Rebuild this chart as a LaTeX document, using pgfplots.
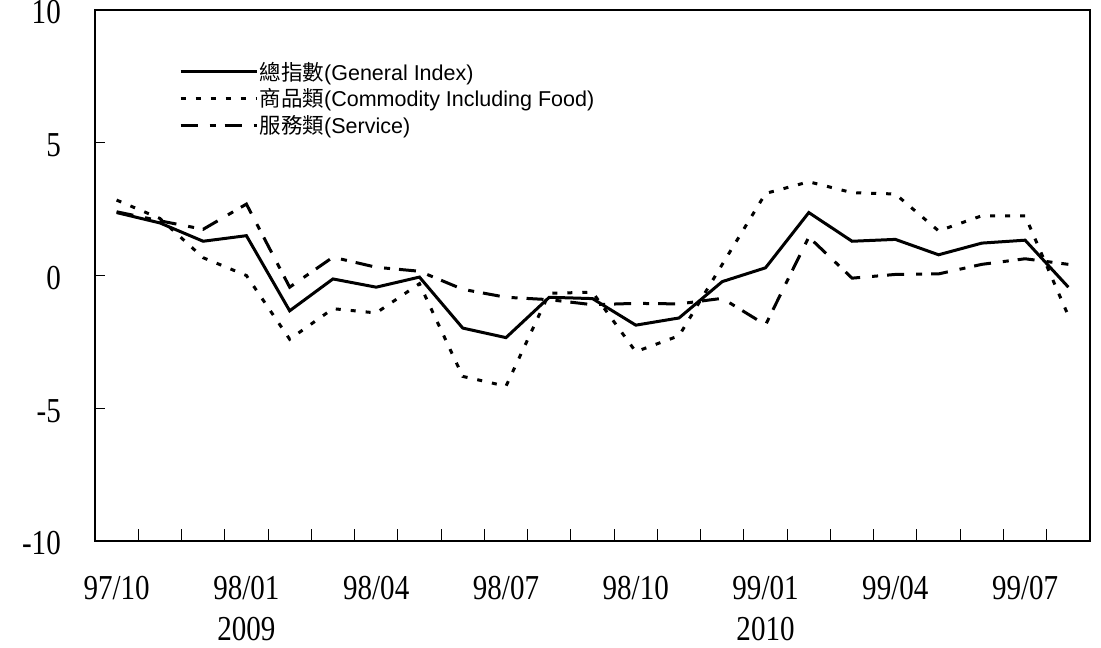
\documentclass[border=0pt]{standalone}
\usepackage{fontspec}
\usepackage{pgfplots}
\pgfplotsset{compat=1.18}
\setmainfont{Liberation Sans}
\newfontfamily\cjk{Noto Sans CJK TC}
\newfontfamily\tickfont[FakeStretch=0.83]{Liberation Serif}
\begin{document}
\begin{tikzpicture}
\begin{axis}[
  at={(0pt,0pt)}, anchor=south west,
  scale only axis, width=995pt, height=531pt,
  xmin=-0.5, xmax=22.5, ymin=-10, ymax=10,
  axis line style={line width=2.5pt},
  xtick={0,3,6,9,12,15,18,21},
  xticklabels={97/10,{98/01\\2009},98/04,98/07,98/10,{99/01\\2010},99/04,99/07},
  minor xtick={0.5,1.5,...,21.5},
  ytick={-10,-5,0,5,10},
  yticklabels={-10,-5,0,5,10},
  major x tick style={draw=none},
  major tick length=10pt, minor tick length=12pt,
  tick style={black, line width=1pt},
  tick align=inside,
  xtick pos=bottom, ytick pos=left,
  xticklabel style={font=\tickfont\fontsize{35}{41}\selectfont, align=center, inner sep=0pt, anchor=north, yshift=-35pt},
  yticklabel style={font=\tickfont\fontsize{35}{41}\selectfont, inner sep=0pt, anchor=east, xshift=-34pt, yshift=-2.5pt},
  legend cell align=left,
  legend style={draw=none, fill=none, at={(0.0844,0.905)}, anchor=north west,
    font=\fontsize{21.5}{24}\selectfont, row sep=4pt, inner sep=0pt,
    nodes={inner sep=1.5pt}},
  legend image code/.code={\draw[#1] (0pt,0pt) -- (76pt,0pt);},
  clip=false,
]
\addplot[black, line width=3pt] coordinates {
(0,2.37) (1,1.98) (2,1.29) (3,1.50) (4,-1.33) (5,-0.13) (6,-0.44) (7,-0.06)
(8,-1.98) (9,-2.34) (10,-0.82) (11,-0.87) (12,-1.87) (13,-1.60) (14,-0.23)
(15,0.29) (16,2.37) (17,1.29) (18,1.36) (19,0.78) (20,1.22) (21,1.33) (22,-0.44)};
\addlegendentry{{\cjk 總指數}(General Index)}
\addplot[black, line width=3pt, dash pattern=on 5pt off 10pt] coordinates {
(0,2.84) (1,2.15) (2,0.67) (3,0.0) (4,-2.40) (5,-1.25) (6,-1.41) (7,-0.31)
(8,-3.80) (9,-4.17) (10,-0.67) (11,-0.63) (12,-2.87) (13,-2.27) (14,0.42)
(15,3.09) (16,3.53) (17,3.12) (18,3.07) (19,1.68) (20,2.25) (21,2.25) (22,-1.52)};
\addlegendentry{{\cjk 商品類}(Commodity Including Food)}
\addplot[black, line width=3pt, dash pattern=on 17pt off 12pt on 6pt off 9pt] coordinates {
(0,2.40) (1,2.06) (2,1.74) (3,2.69) (4,-0.44) (5,0.69) (6,0.31) (7,0.16)
(8,-0.52) (9,-0.82) (10,-0.91) (11,-1.10) (12,-1.05) (13,-1.07) (14,-0.86)
(15,-1.86) (16,1.45) (17,-0.10) (18,0.04) (19,0.06) (20,0.42) (21,0.63) (22,0.42)};
\addlegendentry{{\cjk 服務類}(Service)}
\end{axis}
\path[use as bounding box] (-95pt,-107pt) rectangle (1006pt,541pt);
\end{tikzpicture}
\end{document}
